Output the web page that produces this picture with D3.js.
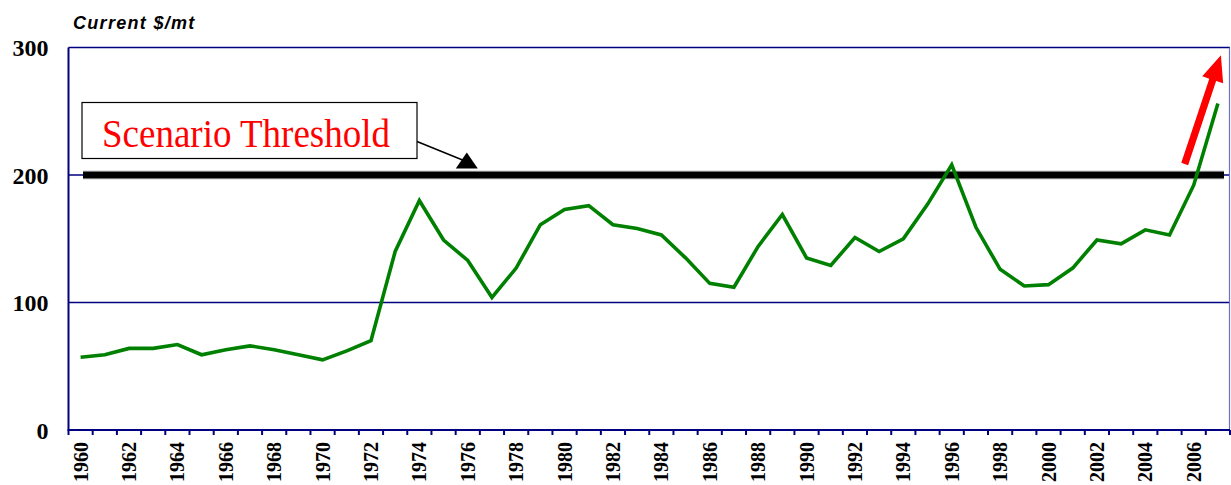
<!DOCTYPE html>
<html>
<head>
<meta charset="utf-8">
<script src="https://cdn.jsdelivr.net/npm/d3@7"></script>
<style>
html,body{margin:0;padding:0;background:#fff;}
svg{display:block;}
</style>
</head>
<body>
<script>
// ---- data ----
const years = d3.range(1960, 2008);
const prices = [57, 59, 64, 64, 67, 59, 63, 66, 63, 59, 55, 62, 70,
  140, 180, 149, 133, 104, 127, 161, 173, 176, 161, 158, 153, 135, 115, 112,
  144, 169, 135, 129, 151, 140, 150, 177, 208, 159, 126, 113, 114, 127, 149,
  146, 157, 153, 192, 256];
const yTicks = [0, 100, 200, 300];
const xLabelYears = years.filter(y => y % 2 === 0);
const thresholdValue = 200;
const thresholdLabel = "Scenario Threshold";
const unitLabel = "Current $/mt";

const W = 1231, H = 485;
const L = 68.5, R = 1230, T = 47.5, B = 430;
const navy = "#000080";

const svg = d3.select("body").append("svg").attr("width", W).attr("height", H);

const x = d3.scaleBand().domain(years).range([L, R]).paddingInner(0).paddingOuter(0);
const y = d3.scaleLinear().domain([0, 300]).range([B, T]);
const cx = v => x(v) + x.bandwidth() / 2;

// gridlines at 100 and 200
svg.append("g").selectAll("line").data(yTicks.filter(t => t > 0 && t < 300)).join("line")
  .attr("x1", L).attr("x2", R).attr("y1", d => y(d)).attr("y2", d => y(d))
  .attr("stroke", navy).attr("stroke-width", 1.3);
// top border
svg.append("line").attr("x1", L).attr("x2", R).attr("y1", y(300)).attr("y2", y(300))
  .attr("stroke", navy).attr("stroke-width", 1.5);
// right border
svg.append("line").attr("x1", R - 0.5).attr("x2", R - 0.5).attr("y1", y(300)).attr("y2", B)
  .attr("stroke", "#7070c0").attr("stroke-width", 1.2);

// threshold line
const thr = svg.append("g");
thr.append("line").attr("x1", L + 14.5).attr("x2", R - 6)
  .attr("y1", y(thresholdValue)).attr("y2", y(thresholdValue))
  .attr("stroke", "#999").attr("stroke-width", 8.5);
thr.append("line").attr("x1", L + 14.5).attr("x2", R - 6)
  .attr("y1", y(thresholdValue)).attr("y2", y(thresholdValue))
  .attr("stroke", "#000").attr("stroke-width", 6.5);

// data line
const line = d3.line().x((d, i) => cx(years[i])).y(d => y(d));
svg.append("path").datum(prices).attr("d", line)
  .attr("fill", "none").attr("stroke", "#008000").attr("stroke-width", 3.6)
  .attr("stroke-linejoin", "miter");

// y axis
svg.append("line").attr("x1", L).attr("x2", L).attr("y1", y(300)).attr("y2", B)
  .attr("stroke", navy).attr("stroke-width", 2);
svg.append("g").selectAll("text").data(yTicks).join("text")
  .attr("x", 48.5).attr("y", d => y(d) + 8.5)
  .attr("text-anchor", "end")
  .attr("font-family", "'Liberation Serif', 'Times New Roman', serif")
  .attr("font-weight", "bold").attr("font-size", 24)
  .text(d => d);

// x axis
svg.append("line").attr("x1", L - 1).attr("x2", R).attr("y1", B).attr("y2", B)
  .attr("stroke", navy).attr("stroke-width", 2);
svg.append("g").selectAll("line").data(years.concat([2008])).join("line")
  .attr("x1", d => d === 2008 ? R : x(d)).attr("x2", d => d === 2008 ? R : x(d))
  .attr("y1", B).attr("y2", B + 5)
  .attr("stroke", navy).attr("stroke-width", 2);
svg.append("g").selectAll("text").data(xLabelYears).join("text")
  .attr("transform", d => `translate(${cx(d) + 7},${B + 12}) rotate(-90)`)
  .attr("text-anchor", "end")
  .attr("font-family", "'Liberation Serif', 'Times New Roman', serif")
  .attr("font-weight", "bold").attr("font-size", 20)
  .text(d => d);

// unit label
svg.append("text").attr("x", 73).attr("y", 28.5)
  .attr("font-family", "'Liberation Sans', Arial, sans-serif")
  .attr("font-weight", "bold").attr("font-style", "italic")
  .attr("font-size", 18).attr("letter-spacing", 1.3)
  .text(unitLabel);

// callout box
const boxX = L + 13.5, boxY = y(thresholdValue) - 72.5, boxW = 335, boxH = 56;
svg.append("rect").attr("x", boxX).attr("y", boxY).attr("width", boxW).attr("height", boxH)
  .attr("fill", "#fff").attr("stroke", "#000").attr("stroke-width", 1.2);
svg.append("text").attr("x", boxX + 20).attr("y", boxY + 44)
  .attr("font-family", "'Liberation Serif', 'Times New Roman', serif")
  .attr("font-size", 39).attr("fill", "#ff0000")
  .attr("textLength", 288).attr("lengthAdjust", "spacingAndGlyphs")
  .text(thresholdLabel);
// leader line + triangle
const ty = y(thresholdValue) - 6.5;
const tx = cx(1976) - 1;
svg.append("line").attr("x1", boxX + boxW).attr("y1", boxY + 39)
  .attr("x2", tx - 3).attr("y2", ty - 8)
  .attr("stroke", "#000").attr("stroke-width", 1.5);
svg.append("path")
  .attr("d", `M${tx},${ty - 16}L${tx + 11},${ty}L${tx - 11},${ty}Z`)
  .attr("fill", "#000");

// red arrow
const ax1 = cx(2006) - 9, ay1 = y(thresholdValue) - 11;
const ax2 = cx(2007) + 3, ay2 = y(294);
const ang = Math.atan2(ay2 - ay1, ax2 - ax1);
const len = Math.hypot(ax2 - ax1, ay2 - ay1);
const headL = 26, headW = 11, shaftW = 3.6;
const arrow = svg.append("g").attr("transform", `translate(${ax1},${ay1}) rotate(${ang * 180 / Math.PI})`);
arrow.append("path")
  .attr("d", `M0,${-shaftW}L${len - headL},${-shaftW}L${len - headL},${-headW}L${len},0L${len - headL},${headW}L${len - headL},${shaftW}L0,${shaftW}Z`)
  .attr("fill", "#ff0000");
</script>
</body>
</html>
